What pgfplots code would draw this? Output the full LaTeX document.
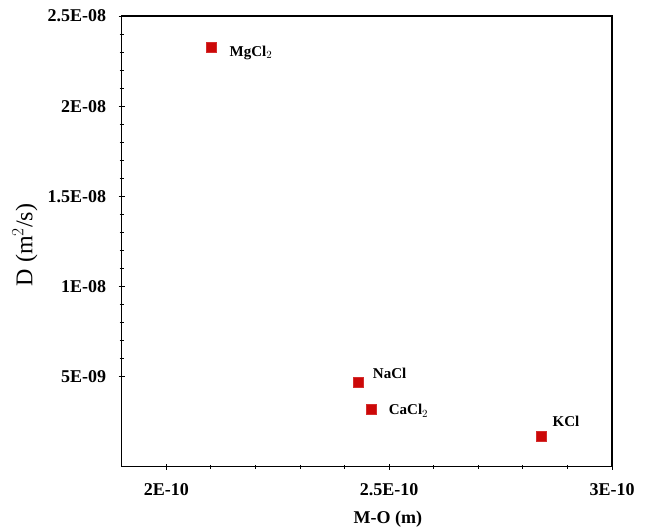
\documentclass[border=0pt]{standalone}
\usepackage{fontspec}
\setmainfont{Liberation Serif}
\usepackage{pgfplots}
\pgfplotsset{compat=1.18}
\definecolor{pt}{RGB}{204,8,8}
\begin{document}
\begin{tikzpicture}
\begin{axis}[
  name=ax,
  scale only axis,
  width=490.3bp, height=450.7bp,
  xmin=1.9e-10, xmax=3e-10,
  ymin=0, ymax=2.5e-8,
  scaled ticks=false,
  xtick={2e-10,2.5e-10,3e-10},
  xticklabels={2E-10,2.5E-10,3E-10},
  ytick={5e-9,1e-8,1.5e-8,2e-8,2.5e-8},
  yticklabels={5E-09,1E-08,1.5E-08,2E-08,2.5E-08},
  minor x tick num=4, minor y tick num=4,
  tick align=center,
  major tick length=6bp, minor tick length=4bp,
  xtick pos=bottom, ytick pos=left,
  axis line style={line width=1.3bp},
  every tick/.style={black, line width=0.8bp},
  tick label style={font=\fontsize{18bp}{20bp}\selectfont\bfseries, inner sep=0pt},
  xticklabel style={anchor=center, yshift=-20bp},
  yticklabel style={anchor=east, xshift=-12.4bp},
  xlabel={M-O (m)},
  ylabel={D (m$^2$/s)},
  xlabel style={font=\fontsize{18bp}{20bp}\selectfont\bfseries, inner sep=0pt,
    at={([shift={(21bp,-52.3bp)}]axis description cs:0.5,0)}, anchor=center},
  ylabel style={font=\fontsize{24bp}{26bp}\selectfont, inner sep=0pt,
    at={([shift={(-96.7bp,-3.6bp)}]axis description cs:0,0.5)}, anchor=center},
]
\addplot[only marks, mark=square*, mark size=5bp, mark options={fill=pt, draw=pt!85!white}]
  coordinates {(2.1e-10,2.326e-8) (2.431e-10,4.66e-9) (2.460e-10,3.18e-9) (2.841e-10,1.70e-9)};
\tikzset{lbl/.style={anchor=west, inner sep=0pt, font=\fontsize{15bp}{17bp}\selectfont\bfseries}}
\node[lbl] at (axis cs:2.1e-10,2.326e-8) [xshift=18.6bp, yshift=-5.7bp] {MgCl$_2$};
\node[lbl] at (axis cs:2.431e-10,4.66e-9) [xshift=14.4bp, yshift=9.7bp] {NaCl};
\node[lbl] at (axis cs:2.460e-10,3.18e-9) [xshift=17.4bp, yshift=-1.4bp] {CaCl$_2$};
\node[lbl] at (axis cs:2.841e-10,1.70e-9) [xshift=11.4bp, yshift=14.3bp] {KCl};
\end{axis}
\path (ax.south west) ++(-121.7bp,-61.3bp) rectangle ++(648bp,528bp);
\end{tikzpicture}
\end{document}
